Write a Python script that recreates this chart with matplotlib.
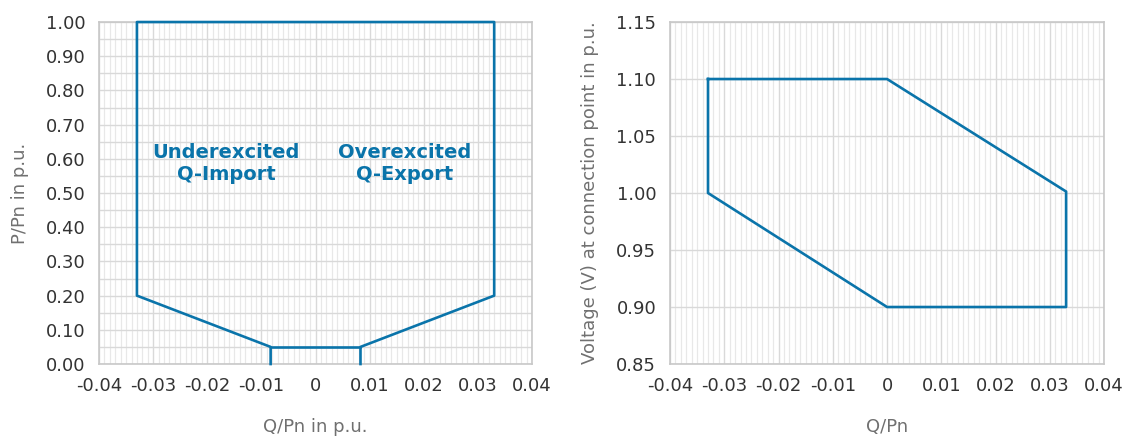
import numpy as np
import matplotlib.pyplot as plt
from matplotlib.ticker import MultipleLocator, FuncFormatter

# P-Q capability polygon (left chart)
q_pq = [-0.0083, -0.0083, -0.033, -0.033, 0.033, 0.033, 0.0083, 0.0083]
p_pq = [0.0, 0.05, 0.20, 1.00, 1.00, 0.20, 0.05, 0.0]
q_bar = [-0.0083, 0.0083]
p_bar = [0.05, 0.05]

# U-Q polygon (right chart)
q_uq = [-0.033, 0.0, 0.033, 0.033, 0.0, -0.033, -0.033]
v_uq = [1.10, 1.10, 1.0013, 0.90, 0.90, 1.00, 1.10]

blue = '#0a74aa'
plt.rcParams['font.family'] = ['DejaVu Sans']

fig = plt.figure(figsize=(11.28, 4.37), dpi=100)
ax1 = fig.add_axes([0.0878, 0.167, 0.3839, 0.7826])
ax2 = fig.add_axes([0.594, 0.167, 0.3848, 0.7826])

def xfmt(v, pos):
    if abs(v) < 1e-9:
        return '0'
    return '%.2f' % v

for ax in (ax1, ax2):
    ax.set_xlim(-0.04, 0.04)
    ax.xaxis.set_major_locator(MultipleLocator(0.01))
    ax.xaxis.set_minor_locator(MultipleLocator(0.001))
    ax.xaxis.set_major_formatter(FuncFormatter(xfmt))
    ax.grid(which='major', color='#d9d9d9', lw=1.0)
    ax.grid(which='minor', axis='x', color='#e8e8e8', lw=0.9)
    ax.set_axisbelow(True)
    ax.tick_params(which='both', length=0, labelsize=13, colors='#333333')
    ax.tick_params(axis='x', pad=9)
    ax.tick_params(axis='y', pad=10)
    for s in ax.spines.values():
        s.set_color('#c8c8c8')
        s.set_linewidth(1.2)

# left
ax1.plot(q_pq, p_pq, color=blue, lw=1.9, zorder=3, clip_on=False)
ax1.plot(q_bar, p_bar, color=blue, lw=1.9, zorder=3, clip_on=False)
ax1.set_ylim(0, 1.0)
ax1.yaxis.set_major_locator(MultipleLocator(0.1))
ax1.yaxis.set_minor_locator(MultipleLocator(0.05))
ax1.grid(which='minor', axis='y', color='#d9d9d9', lw=1.0)
ax1.yaxis.set_major_formatter(FuncFormatter(lambda v, p: '%.2f' % v))
ax1.set_xlabel('Q/Pn in p.u.', fontsize=13, color='#707070', labelpad=17)
ax1.set_ylabel('P/Pn in p.u.', fontsize=13, color='#707070', labelpad=12)
ax1.text(-0.0165, 0.586, 'Underexcited\nQ-Import', color=blue, fontsize=14,
         fontweight='bold', ha='center', va='center', linespacing=1.2)
ax1.text(0.0165, 0.586, 'Overexcited\nQ-Export', color=blue, fontsize=14,
         fontweight='bold', ha='center', va='center', linespacing=1.2)

# right
ax2.plot(q_uq, v_uq, color=blue, lw=1.9, zorder=3)
ax2.set_ylim(0.85, 1.15)
ax2.yaxis.set_major_locator(MultipleLocator(0.05))
ax2.yaxis.set_major_formatter(FuncFormatter(lambda v, p: '%.2f' % v))
ax2.set_xlabel('Q/Pn', fontsize=13, color='#707070', labelpad=17)
ax2.set_ylabel('Voltage (V) at connection point in p.u.', fontsize=13,
               color='#707070', labelpad=12)

fig.savefig('out.png', dpi=100)
